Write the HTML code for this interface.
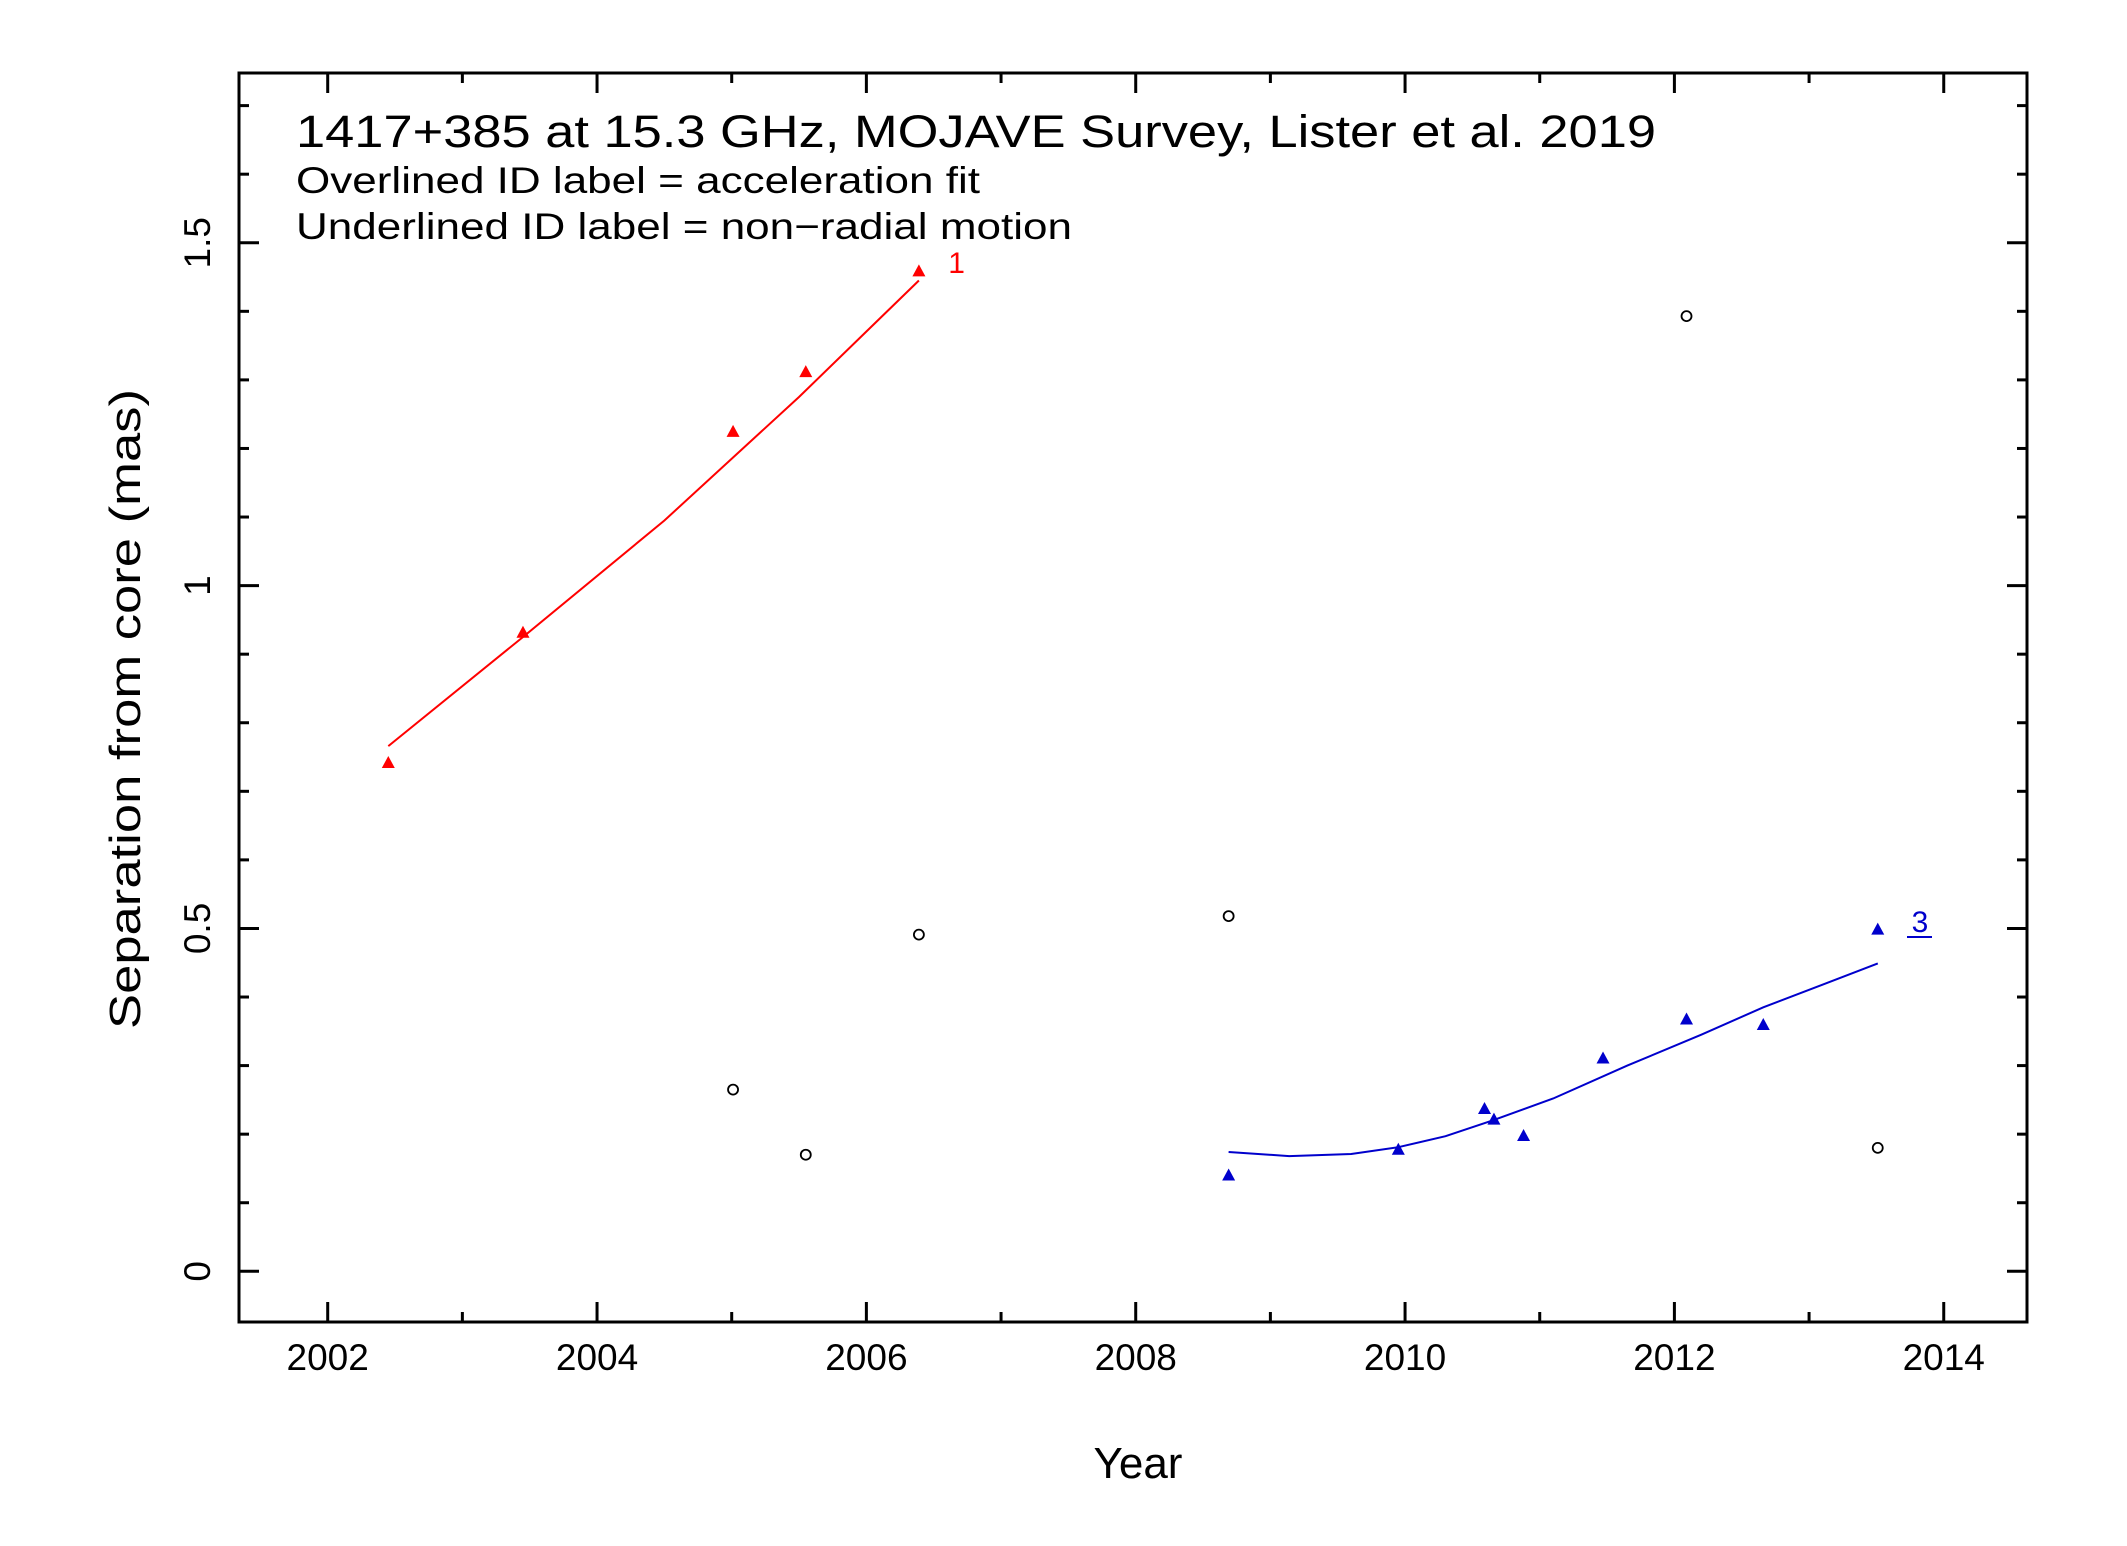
<!DOCTYPE html>
<html>
<head>
<meta charset="utf-8">
<style>
  html,body{margin:0;padding:0;background:#fff;}
  svg{display:block;}
  text{font-family:"Liberation Sans",sans-serif;}
</style>
</head>
<body>
<svg id="chart" width="2127" height="1546" viewBox="0 0 2127 1546" xmlns="http://www.w3.org/2000/svg">
  <rect x="0" y="0" width="2127" height="1546" fill="#fff"/>
  <g id="ticks"></g>
  <g id="marks"></g>
  <rect x="239" y="73" width="1788" height="1249" fill="none" stroke="#000" stroke-width="3"/>
  <text x="296" y="147" font-size="45" textLength="1360" lengthAdjust="spacingAndGlyphs">1417+385 at 15.3 GHz, MOJAVE Survey, Lister et al. 2019</text>
  <text x="296" y="193" font-size="37" textLength="684" lengthAdjust="spacingAndGlyphs">Overlined ID label = acceleration fit</text>
  <text x="296" y="239" font-size="37" textLength="776" lengthAdjust="spacingAndGlyphs">Underlined ID label = non−radial motion</text>
  <text x="1138" y="1478" font-size="44" text-anchor="middle">Year</text>
  <text transform="translate(140,709) rotate(-90)" font-size="44" text-anchor="middle" textLength="640" lengthAdjust="spacingAndGlyphs">Separation from core (mas)</text>
</svg>
<script>
const xTickYears = [2002, 2004, 2006, 2008, 2010, 2012, 2014];
const yTickValues = [0, 0.5, 1, 1.5];
const yTickLabels = ["0", "0.5", "1", "1.5"];

const comp1Years = [2002.45, 2003.45, 2005.01, 2005.55, 2006.39];
const comp1Sep = [0.742, 0.932, 1.225, 1.312, 1.459];
const comp1FitYears = [2002.45, 2003.45, 2004.5, 2005.5, 2006.39];
const comp1FitSep = [0.766, 0.925, 1.095, 1.275, 1.445];

const comp3Years = [2008.69, 2009.95, 2010.59, 2010.66, 2010.88, 2011.47, 2012.09, 2012.66, 2013.51];
const comp3Sep = [0.1405, 0.178, 0.2375, 0.222, 0.198, 0.311, 0.368, 0.360, 0.499];
const comp3FitYears = [2008.69, 2009.14, 2009.6, 2009.95, 2010.3, 2010.65, 2011.1, 2011.65, 2012.2, 2012.66, 2013.1, 2013.51];
const comp3FitSep = [0.174, 0.168, 0.171, 0.181, 0.197, 0.220, 0.252, 0.300, 0.345, 0.385, 0.418, 0.449];

const otherYears = [2005.01, 2005.55, 2006.39, 2008.69, 2012.09, 2013.51];
const otherSep = [0.265, 0.170, 0.491, 0.518, 1.393, 0.180];

const X0 = 327.7, XPY = 134.67, Y0 = 1271.3, YPU = 685.7;
function xs(yr){ return X0 + (yr - 2002) * XPY; }
function ys(v){ return Y0 - v * YPU; }
const NS = "http://www.w3.org/2000/svg";
const ticks = document.getElementById('ticks');
const marks = document.getElementById('marks');
function mk(tag, attrs, parent){
  const e = document.createElementNS(NS, tag);
  for (const k in attrs) e.setAttribute(k, attrs[k]);
  parent.appendChild(e);
  return e;
}
// x ticks
for (let yr = 2002; yr <= 2014; yr++) {
  const major = (yr % 2 === 0);
  const len = major ? 20 : 10;
  const x = xs(yr);
  const t1 = mk('line', {x1:x, x2:x, y1:1322, y2:1322-len, stroke:'#000', 'stroke-width':3}, ticks);
  
  
  const t2 = mk('line', {x1:x, x2:x, y1:73, y2:73+len, stroke:'#000', 'stroke-width':3}, ticks);
  
  
}
xTickYears.forEach(function(yr){
  const t = mk('text', {x:xs(yr), y:1370, 'font-size':37, 'text-anchor':'middle'}, ticks);
  t.textContent = String(yr);
  
  
});
// y ticks
for (let i = -0; i <= 17; i++) {
  const v = i / 10;
  const major = (i % 5 === 0);
  const len = major ? 20 : 10;
  const y = ys(v);
  const t1 = mk('line', {x1:239, x2:239+len, y1:y, y2:y, stroke:'#000', 'stroke-width':3}, ticks);
  
  
  const t2 = mk('line', {x1:2027, x2:2027-len, y1:y, y2:y, stroke:'#000', 'stroke-width':3}, ticks);
  
  
}
yTickValues.forEach(function(v, i){
  const t = mk('text', {transform:'translate(210,' + ys(v) + ') rotate(-90)', 'font-size':37, 'text-anchor':'middle'}, ticks);
  t.textContent = yTickLabels[i];
  
  
});
// fit lines
function fitPath(xsArr, vsArr, color, name){
  let d = '';
  xsArr.forEach(function(yr, i){ d += (i ? 'L' : 'M') + xs(yr).toFixed(1) + ',' + ys(vsArr[i]).toFixed(1); });
  const p = mk('path', {d:d, fill:'none', stroke:color, 'stroke-width':2}, marks);
  
  
}
fitPath(comp1FitYears, comp1FitSep, '#ff0000', 'component-1-fit');
fitPath(comp3FitYears, comp3FitSep, '#0000cc', 'component-3-fit');
// triangles
function tri(yr, v, color, name){
  const x = xs(yr), y = ys(v);
  const p = mk('polygon', {points:(x-6.5)+','+(y+5.5)+' '+(x+6.5)+','+(y+5.5)+' '+x+','+(y-6.5), fill:color}, marks);
  
  
}
comp1Years.forEach(function(yr, i){ tri(yr, comp1Sep[i], '#ff0000', 'component-1-point'); });
comp3Years.forEach(function(yr, i){ tri(yr, comp3Sep[i], '#0000cc', 'component-3-point'); });
otherYears.forEach(function(yr, i){
  const c = mk('circle', {cx:xs(yr), cy:ys(otherSep[i]), r:5, fill:'none', stroke:'#000', 'stroke-width':1.8}, marks);
  
  
});
// ID labels
const l1 = mk('text', {x:xs(2006.67), y:ys(1.472)+11, 'font-size':30, fill:'#ff0000', 'text-anchor':'middle'}, marks);
l1.textContent = '1';


const l3 = mk('text', {x:1920, y:932, 'font-size':30, fill:'#0000cc', 'text-anchor':'middle'}, marks);
l3.textContent = '3';


const u3 = mk('line', {x1:1907, x2:1932, y1:937, y2:937, stroke:'#0000cc', 'stroke-width':2}, marks);


</script>
</body>
</html>
